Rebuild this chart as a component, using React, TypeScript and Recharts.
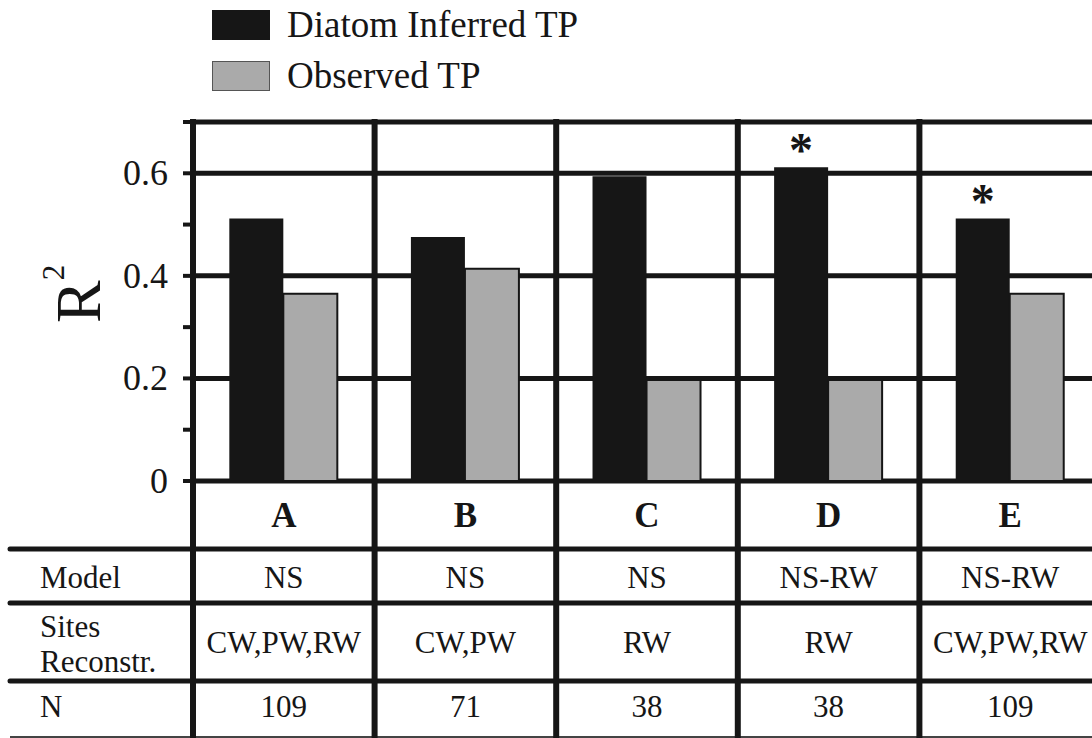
import React from 'react';
import { BarChart, Bar, XAxis, YAxis, CartesianGrid, Legend, LabelList, Label } from 'recharts';

const categories = ['A', 'B', 'C', 'D', 'E'];
const inferredTP = [0.512, 0.476, 0.594, 0.612, 0.512];
const observedTP = [0.365, 0.414, 0.197, 0.197, 0.365];
const significant = ['', '', '', '*', '*'];
const models = ['NS', 'NS', 'NS', 'NS-RW', 'NS-RW'];
const sitesReconstructed = ['CW,PW,RW', 'CW,PW', 'RW', 'RW', 'CW,PW,RW'];
const nValues = [109, 71, 38, 38, 109];
const yTicks = [0, 0.1, 0.2, 0.3, 0.4, 0.5, 0.6, 0.7];
const yLabelledTicks = [0, 0.2, 0.4, 0.6];
const gridValues = [0, 0.2, 0.4, 0.6, 0.7];
const seriesNames = ['Diatom Inferred TP', 'Observed TP'];
const seriesColors = ['#161616', '#aaaaaa'];
const rowLabels = ['Model', 'Sites', 'Reconstr.', 'N'];

const data = categories.map((c, i) => ({
  category: c,
  inferred: inferredTP[i],
  observed: observedTP[i],
  sig: significant[i],
}));

const INK = '#161616';
const FONT = "'Liberation Serif', 'Times New Roman', serif";
const CHART_W = 1101;
const CHART_H = 738;
const TOP = 122;
const Y_AXIS_W = 193;
const X_AXIS_H = 257;
const PLOT_W = CHART_W - Y_AXIS_W;
const PLOT_H = CHART_H - TOP - X_AXIS_H;
const BAND = PLOT_W / categories.length;

const YTick = (props: any) => {
  const { x, y, payload } = props;
  const v = payload.value;
  const labelled = yLabelledTicks.some((t) => Math.abs(t - v) < 1e-9);
  if (!labelled) return <g />;
  return (
    <text x={x} y={y} dy={12} textAnchor="end" fontFamily={FONT} fontSize={36} fill={INK}>
      {v === 0 ? '0' : v.toFixed(1)}
    </text>
  );
};

const XTick = (props: any) => {
  const { x, y, payload } = props;
  const i: number = payload.index;
  const left = x - BAND / 2;
  const right = x + BAND / 2;
  const top = y - PLOT_H;
  const bottom = y + X_AXIS_H;
  const rowLines = [68, 122, 200];
  return (
    <g>
      {i === 0 && (
        <g>
          {rowLines.map((d) => (
            <line key={d} x1={10} x2={CHART_W} y1={y + d} y2={y + d} stroke={INK} strokeWidth={5} strokeLinecap="round" />
          ))}
          <line x1={10} x2={CHART_W} y1={y + 256} y2={y + 256} stroke="#444" strokeWidth={2} />
          <text x={40} y={y + 97} dy={10} fontFamily={FONT} fontSize={31} fill={INK}>{rowLabels[0]}</text>
          <text x={40} y={y + 146} dy={10} fontFamily={FONT} fontSize={31} fill={INK}>{rowLabels[1]}</text>
          <text x={40} y={y + 181} dy={10} fontFamily={FONT} fontSize={31} fill={INK}>{rowLabels[2]}</text>
          <text x={40} y={y + 226} dy={10} fontFamily={FONT} fontSize={31} fill={INK}>{rowLabels[3]}</text>
        </g>
      )}
      <line x1={left} x2={left} y1={top - 3} y2={bottom} stroke={INK} strokeWidth={6} />
      {i === categories.length - 1 && (
        <line x1={right} x2={right} y1={top - 3} y2={bottom} stroke={INK} strokeWidth={6} />
      )}
      <text x={x} y={y + 34} dy={12} textAnchor="middle" fontFamily={FONT} fontSize={35} fontWeight={700} fill={INK}>
        {payload.value}
      </text>
      <text x={x} y={y + 97} dy={10} textAnchor="middle" fontFamily={FONT} fontSize={31} fill={INK}>{models[i]}</text>
      <text x={x} y={y + 162} dy={10} textAnchor="middle" fontFamily={FONT} fontSize={31} fill={INK}>{sitesReconstructed[i]}</text>
      <text x={x} y={y + 226} dy={10} textAnchor="middle" fontFamily={FONT} fontSize={31} fill={INK}>{nValues[i]}</text>
    </g>
  );
};

const YLabel = (props: any) => {
  const vb = props.viewBox || { x: 0, y: TOP };
  const bx = vb.x + 100;
  const by = vb.y + 201;
  return (
    <text x={bx} y={by} transform={`rotate(-90 ${bx} ${by})`} fontFamily={FONT} fontSize={64} fill={INK}>
      <tspan>R</tspan>
      <tspan dy={-36} fontSize={31}>2</tspan>
    </text>
  );
};

const renderLegend = () => (
  <div style={{ position: 'relative', width: 700, height: 100 }}>
    {seriesNames.map((name, i) => (
      <div
        key={name}
        style={{ position: 'absolute', left: 212, top: 10 + i * 51, height: 30, display: 'flex', alignItems: 'center' }}
      >
        <div
          style={{
            width: 58,
            height: 30,
            background: seriesColors[i],
            border: i === 1 ? '1.5px solid #555' : 'none',
            boxSizing: 'border-box',
          }}
        />
        <span style={{ marginLeft: 17, fontFamily: FONT, fontSize: 37, color: INK, lineHeight: '30px', whiteSpace: 'nowrap' }}>
          {name}
        </span>
      </div>
    ))}
  </div>
);

const renderStar = (p: any) => {
  if (!p.value) return null;
  return (
    <text x={p.x + p.width / 2} y={p.y - 1} textAnchor="middle" fontFamily={FONT} fontSize={48} fontWeight={700} fill={INK}>
      {p.value}
    </text>
  );
};

export default function App() {
  return (
    <div style={{ position: 'absolute', left: 0, top: 0, width: 1092, height: 738, overflow: 'hidden', background: '#fff' }}>
      <BarChart
        width={CHART_W}
        height={CHART_H}
        data={data}
        margin={{ top: TOP, right: 0, bottom: 0, left: 0 }}
        barCategoryGap="20%"
        barGap={0}
      >
        <CartesianGrid vertical={false} horizontalValues={gridValues} stroke={INK} strokeWidth={5} />
        <XAxis
          dataKey="category"
          height={X_AXIS_H}
          axisLine={false}
          tickLine={false}
          tickSize={0}
          tickMargin={0}
          interval={0}
          tick={<XTick />}
        />
        <YAxis
          width={Y_AXIS_W}
          domain={[0, 0.7]}
          ticks={yTicks}
          interval={0}
          axisLine={false}
          tickLine={{ stroke: INK, strokeWidth: 4 }}
          tickSize={10}
          tickMargin={15}
          tick={<YTick />}
        >
          <Label content={<YLabel />} />
        </YAxis>
        <Legend layout="vertical" align="center" verticalAlign="middle" wrapperStyle={{ left: 0, top: 0, width: 700, height: 100 }} content={renderLegend} />
        <Bar dataKey="inferred" name={seriesNames[0]} fill={seriesColors[0]} isAnimationActive={false}>
          <LabelList dataKey="sig" content={renderStar} />
        </Bar>
        <Bar dataKey="observed" name={seriesNames[1]} fill={seriesColors[1]} stroke={INK} strokeWidth={2} isAnimationActive={false} />
      </BarChart>
    </div>
  );
}
